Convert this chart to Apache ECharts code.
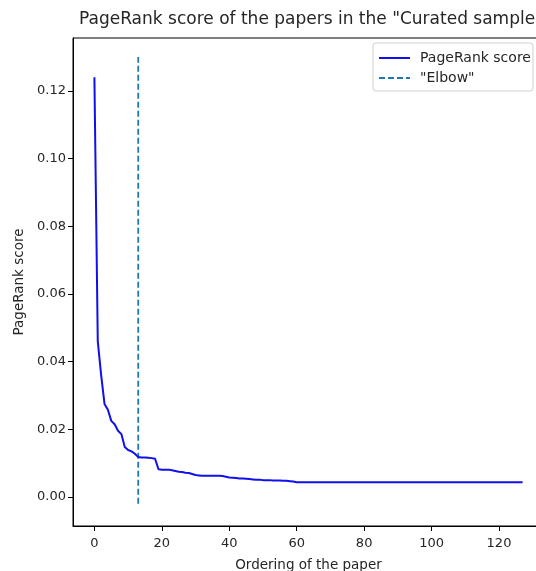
<!DOCTYPE html>
<html>
<head>
<meta charset="utf-8">
<script src="https://cdn.jsdelivr.net/npm/echarts@6/dist/echarts.min.js"></script>
<style>
  html, body { margin: 0; padding: 0; background: #fff; }
  #main { width: 536px; height: 571px; }
</style>
</head>
<body>
<div id="main"></div>
<script>
// PageRank score of each paper, ordered from highest to lowest (index = ordering)
const pagerankScores = [
  0.124, 0.046, 0.036, 0.0275, 0.0258, 0.0225, 0.0215, 0.0196, 0.0186, 0.0148,
  0.0139, 0.0135, 0.0128, 0.0118, 0.0117, 0.0117, 0.0116, 0.0115, 0.0113, 0.0082,
  0.0081, 0.0081, 0.0081, 0.0079, 0.0077, 0.0075, 0.0074, 0.0072, 0.0071, 0.0068,
  0.0065, 0.0064, 0.0063, 0.0063, 0.0063, 0.0063, 0.0063, 0.0063, 0.0062, 0.0060,
  0.0058, 0.0057, 0.0056, 0.0055, 0.0055, 0.0054, 0.0053, 0.0052, 0.0051, 0.0051,
  0.0050, 0.0050, 0.0050, 0.0049, 0.0049, 0.0049, 0.0048, 0.0048, 0.0047, 0.0046,
  0.0044, 0.0044, 0.0044, 0.0044, 0.0044, 0.0044, 0.0044, 0.0044, 0.0044, 0.0044,
  0.0044, 0.0044, 0.0044, 0.0044, 0.0044, 0.0044, 0.0044, 0.0044, 0.0044, 0.0044,
  0.0044, 0.0044, 0.0044, 0.0044, 0.0044, 0.0044, 0.0044, 0.0044, 0.0044, 0.0044,
  0.0044, 0.0044, 0.0044, 0.0044, 0.0044, 0.0044, 0.0044, 0.0044, 0.0044, 0.0044,
  0.0044, 0.0044, 0.0044, 0.0044, 0.0044, 0.0044, 0.0044, 0.0044, 0.0044, 0.0044,
  0.0044, 0.0044, 0.0044, 0.0044, 0.0044, 0.0044, 0.0044, 0.0044, 0.0044, 0.0044,
  0.0044, 0.0044, 0.0044, 0.0044, 0.0044, 0.0044, 0.0044, 0.0044
];
// "Elbow" vertical line: x position and its y extent
const elbowX = 13;
const elbowY = [-0.002, 0.13];
// tick labels
const xTicks = [0, 20, 40, 60, 80, 100, 120];
const yTicks = [0, 0.02, 0.04, 0.06, 0.08, 0.1, 0.12];

const font = 'DejaVu Sans';
const textColor = '#262626';

let myChart = echarts.init(document.getElementById('main'));
let option = {
  animation: false,
  backgroundColor: '#fff',
  textStyle: { fontFamily: font },
  title: {
    text: 'PageRank score of the papers in the "Curated sample"',
    left: 306,
    top: 6,
    textAlign: 'center',
    textStyle: { fontFamily: font, fontSize: 17, fontWeight: 'normal', color: textColor }
  },
  legend: {
    show: true,
    left: 373,
    top: 43,
    orient: 'vertical',
    itemWidth: 31,
    itemHeight: 12,
    itemGap: 6,
    padding: [8, 2, 6, 5],
    borderColor: '#d0d0d0',
    borderWidth: 1,
    borderRadius: 3,
    backgroundColor: '#fff',
    itemStyle: { opacity: 0 },
    textStyle: { fontFamily: font, fontSize: 14, color: textColor, padding: [0, 0, 0, 5] },
    data: ['PageRank score', '"Elbow"']
  },
  grid: {
    left: 73, top: 38, width: 471, height: 488,
    outerBoundsMode: 'none',
    show: true, borderColor: '#000', borderWidth: 1, containLabel: false
  },
  xAxis: {
    type: 'value',
    min: -6.35,
    max: 133.35,
    name: 'Ordering of the paper',
    nameLocation: 'middle',
    nameGap: 32,
    nameTextStyle: { fontFamily: font, fontSize: 13.5, color: textColor },
    axisLine: { show: true, onZero: false, lineStyle: { color: '#000' } },
    axisTick: { show: true, length: 5, customValues: xTicks, lineStyle: { color: '#000' } },
    axisLabel: { customValues: xTicks, fontFamily: font, fontSize: 13, color: textColor, margin: 11 },
    splitLine: { show: false }
  },
  yAxis: {
    type: 'value',
    min: -0.00855,
    max: 0.1356,
    name: 'PageRank score',
    nameLocation: 'middle',
    nameGap: 47,
    nameTextStyle: { fontFamily: font, fontSize: 13.5, color: textColor },
    axisLine: { show: true, onZero: false, lineStyle: { color: '#000' } },
    axisTick: { show: true, length: 5, customValues: yTicks, lineStyle: { color: '#000' } },
    axisLabel: {
      customValues: yTicks,
      fontFamily: font, fontSize: 13, color: textColor, margin: 7,
      formatter: v => v.toFixed(2)
    },
    splitLine: { show: false }
  },
  series: [
    {
      name: 'PageRank score',
      type: 'line',
      data: pagerankScores.map((v, i) => [i, v]),
      showSymbol: false,
      symbol: 'none',
      lineStyle: { color: '#1010ee', width: 2 },
      itemStyle: { color: '#1010ee' },
      z: 3
    },
    {
      name: '"Elbow"',
      type: 'line',
      data: [[elbowX, elbowY[0]], [elbowX, elbowY[1]]],
      showSymbol: false,
      symbol: 'none',
      lineStyle: { color: '#1f77b4', width: 1.8, type: [6, 3] },
      itemStyle: { color: '#1f77b4' },
      z: 2
    }
  ]
};
myChart.setOption(option);
</script>
</body>
</html>
